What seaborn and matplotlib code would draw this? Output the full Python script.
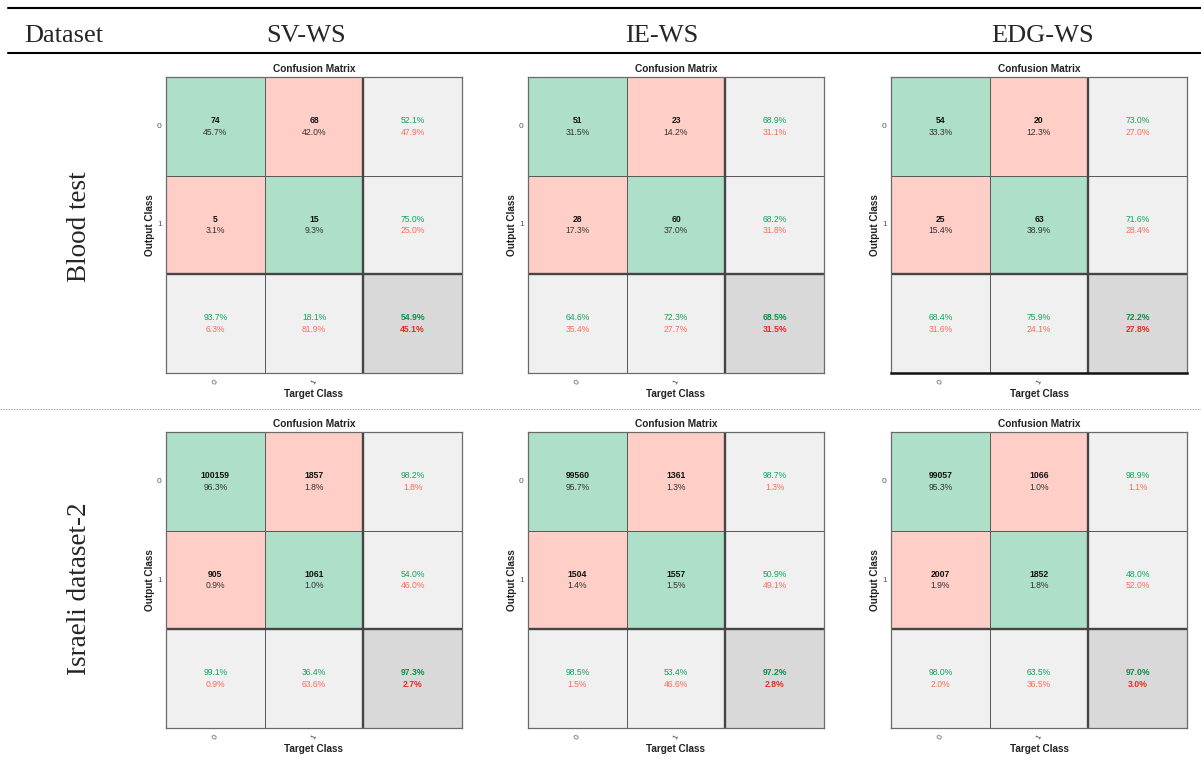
import numpy as np
import matplotlib
matplotlib.use("Agg")
import matplotlib.pyplot as plt
from matplotlib.colors import ListedColormap
import seaborn as sns

# ---------------------------------------------------------------- data
methods = ["SV-WS", "IE-WS", "EDG-WS"]
datasets = ["Blood test", "Israeli dataset-2"]
class_labels = ["0", "1"]

# 2x2 confusion counts: rows = output (predicted) class, cols = target class
blood_sv = [[74, 68], [5, 15]]
blood_ie = [[51, 23], [28, 60]]
blood_edg = [[54, 20], [25, 63]]
israeli_sv = [[100159, 1857], [905, 1061]]
israeli_ie = [[99560, 1361], [1504, 1557]]
israeli_edg = [[99057, 1066], [2007, 1852]]

matrices = [[blood_sv, blood_ie, blood_edg],
            [israeli_sv, israeli_ie, israeli_edg]]

# ---------------------------------------------------------------- style
sns.set_style("white")
plt.rcParams["font.family"] = ["Liberation Sans", "DejaVu Sans"]

GREEN_CELL = "#aedfc8"
RED_CELL = "#ffcec6"
GRAY_CELL = "#f0f0f0"
TOTAL_CELL = "#d9d9d9"
cell_cmap = ListedColormap([GREEN_CELL, RED_CELL, GRAY_CELL, TOTAL_CELL])

GOOD_TXT = "#14a35c"
BAD_TXT = "#ff6a5a"
GOOD_TOTAL = "#0b8e48"
BAD_TOTAL = "#e82a1e"

SERIF = "Liberation Serif"
W, H = 1201, 761


def summarize(cm):
    cm = np.asarray(cm, dtype=float)
    total = cm.sum()
    cell_pct = cm / total * 100
    row_ok = np.diag(cm) / cm.sum(axis=1) * 100
    col_ok = np.diag(cm) / cm.sum(axis=0) * 100
    acc = np.trace(cm) / total * 100
    return cell_pct, row_ok, col_ok, acc


def draw_confusion(ax, cm, heavy_bottom=False):
    # cell category: 0 correct, 1 wrong, 2 per-class summary, 3 overall
    kind = np.array([[0, 1, 2], [1, 0, 2], [2, 2, 3]])
    sns.heatmap(kind, ax=ax, cmap=cell_cmap, vmin=-0.5, vmax=3.5, cbar=False,
                linewidths=0.7, linecolor="#5a5a5a",
                xticklabels=class_labels + [""], yticklabels=class_labels + [""])
    ax.axhline(2, color="#454545", lw=1.7)
    ax.axvline(2, color="#454545", lw=1.7)
    for side, sp in ax.spines.items():
        sp.set_visible(True)
        sp.set_color("#6a6a6a")
        sp.set_linewidth(0.9)
    if heavy_bottom:
        ax.spines["bottom"].set_color("#111111")
        ax.spines["bottom"].set_linewidth(1.8)

    ax.tick_params(axis="both", length=0, labelsize=6, labelcolor="#555555")
    ax.tick_params(axis="y", pad=3, labelrotation=0)
    ax.tick_params(axis="x", pad=4, labelrotation=60)

    cm_arr = np.asarray(cm)
    cell_pct, row_ok, col_ok, acc = summarize(cm)
    d = 0.06
    fs = 6.2
    for r in range(2):
        for c in range(2):
            ax.text(c + 0.5, r + 0.5 - d, f"{cm_arr[r, c]}", ha="center",
                    va="center", fontsize=fs, fontweight="bold", color="#111111")
            ax.text(c + 0.5, r + 0.5 + d, f"{cell_pct[r, c]:.1f}%", ha="center",
                    va="center", fontsize=fs, color="#333333")
    for r in range(2):
        ax.text(2.5, r + 0.5 - d, f"{row_ok[r]:.1f}%", ha="center", va="center",
                fontsize=fs, color=GOOD_TXT)
        ax.text(2.5, r + 0.5 + d, f"{100 - row_ok[r]:.1f}%", ha="center",
                va="center", fontsize=fs, color=BAD_TXT)
    for c in range(2):
        ax.text(c + 0.5, 2.5 - d, f"{col_ok[c]:.1f}%", ha="center", va="center",
                fontsize=fs, color=GOOD_TXT)
        ax.text(c + 0.5, 2.5 + d, f"{100 - col_ok[c]:.1f}%", ha="center",
                va="center", fontsize=fs, color=BAD_TXT)
    ax.text(2.5, 2.5 - d, f"{acc:.1f}%", ha="center", va="center", fontsize=fs,
            fontweight="bold", color=GOOD_TOTAL)
    ax.text(2.5, 2.5 + d, f"{100 - acc:.1f}%", ha="center", va="center",
            fontsize=fs, fontweight="bold", color=BAD_TOTAL)

    size = ax.get_position().height * H
    ax.text(0.5, 1 + 7.5 / size, "Confusion Matrix", transform=ax.transAxes,
            ha="center", va="center", fontsize=7.3, fontweight="bold",
            color="#222222")
    ax.text(0.5, -21 / size, "Target Class", transform=ax.transAxes,
            ha="center", va="center", fontsize=7.2, fontweight="bold",
            color="#222222")
    ax.text(-16 / size, 0.5, "Output Class", transform=ax.transAxes,
            ha="center", va="center", rotation=90, fontsize=7.2,
            fontweight="bold", color="#222222")


fig = plt.figure(figsize=(W / 100, H / 100), dpi=100)

# table frame drawn in pixel coordinates
bg = fig.add_axes([0, 0, 1, 1])
bg.set_xlim(0, W)
bg.set_ylim(H, 0)
bg.axis("off")
bg.plot([8, W], [7.5, 7.5], color="black", lw=1.5)
bg.plot([8, W], [53, 53], color="black", lw=1.5)
bg.plot([0, W], [409, 409], color="#a0a0a0", lw=0.8, ls=(0, (1.2, 1.2)))

bg.text(24, 42, "Dataset", family=SERIF, fontsize=19, ha="left", va="baseline")
for x, name in zip([306, 662, 1043], methods):
    bg.text(x, 42, name, family=SERIF, fontsize=19, ha="center", va="baseline")
for y, name in zip([227, 589], datasets):
    bg.text(86, y, name, family=SERIF, fontsize=19.5, rotation=90,
            rotation_mode="anchor", ha="center", va="baseline")

col_left = [166, 528, 891]
row_top = [77, 432]
size = 296
for i in range(2):
    for j in range(3):
        ax = fig.add_axes([col_left[j] / W, 1 - (row_top[i] + size) / H,
                           size / W, size / H])
        draw_confusion(ax, matrices[i][j], heavy_bottom=(i == 0 and j == 2))

fig.savefig("out.png", dpi=100)
